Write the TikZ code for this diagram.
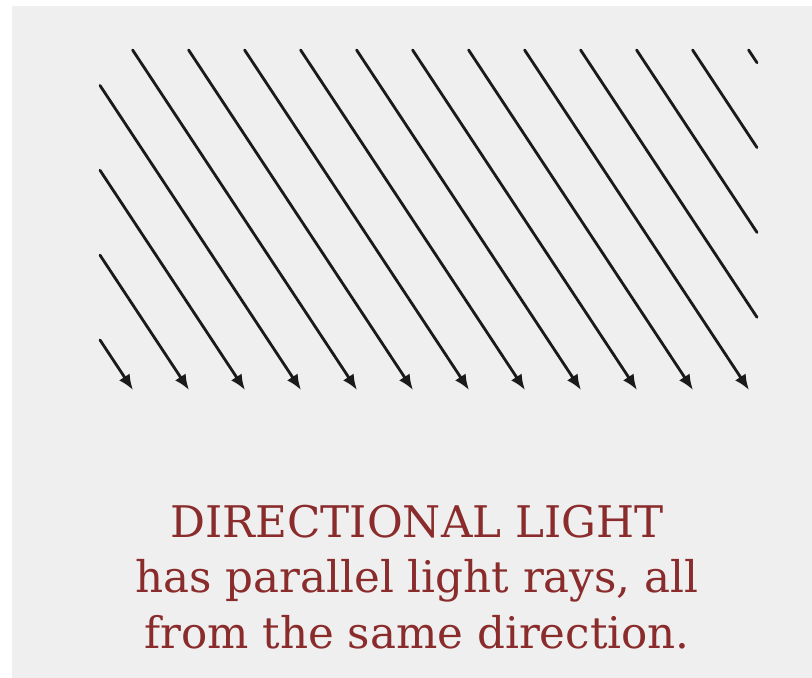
\documentclass[tikz,border=0pt]{standalone}
\usepackage{fontspec}
\setmainfont{DejaVu Serif}
\usepackage{tikz}
\usetikzlibrary{arrows.meta}
\definecolor{panel}{HTML}{EFEFEF}
\definecolor{ray}{HTML}{1A1A1A}
\definecolor{caption}{HTML}{8A2C2C}

\begin{document}
\begin{tikzpicture}[
    x=0.025cm, y=-0.025cm,
    rayline/.style={draw=ray, line width=2pt, line cap=round},
    rayarrow/.style={rayline, -{Latex[length=11pt, width=9pt]}},
    lbl/.style={font=\fontsize{31}{39.6}\selectfont, text=caption, align=center}
]
  % background panel
  \useasboundingbox (0,0) rectangle (812,678);
  \fill[white] (0,0) rectangle (812,678);
  \fill[panel] (12,6) rectangle (812,678);

  % rays with arrow tips on the bottom row (tips 56px apart, slope 0.66)
  \foreach \i in {0,...,11} {
    \pgfmathsetmacro\tx{133+56*\i}
    \pgfmathsetmacro\sx{max(100,\tx-224.4)}
    \pgfmathsetmacro\sy{390-(\tx-\sx)/0.66}
    \draw[rayarrow] (\sx,\sy) -- (\tx,390);
  }
  % rays leaving through the right edge
  \foreach \i in {12,...,15} {
    \pgfmathsetmacro\tx{133+56*\i}
    \pgfmathsetmacro\ey{390-(\tx-757)/0.66}
    \draw[rayline] (\tx-224.4,50) -- (757,\ey);
  }

  \node[lbl] (caption) at (417,577) {DIRECTIONAL LIGHT\\has parallel light rays, all\\from the same direction.};
\end{tikzpicture}
\end{document}
